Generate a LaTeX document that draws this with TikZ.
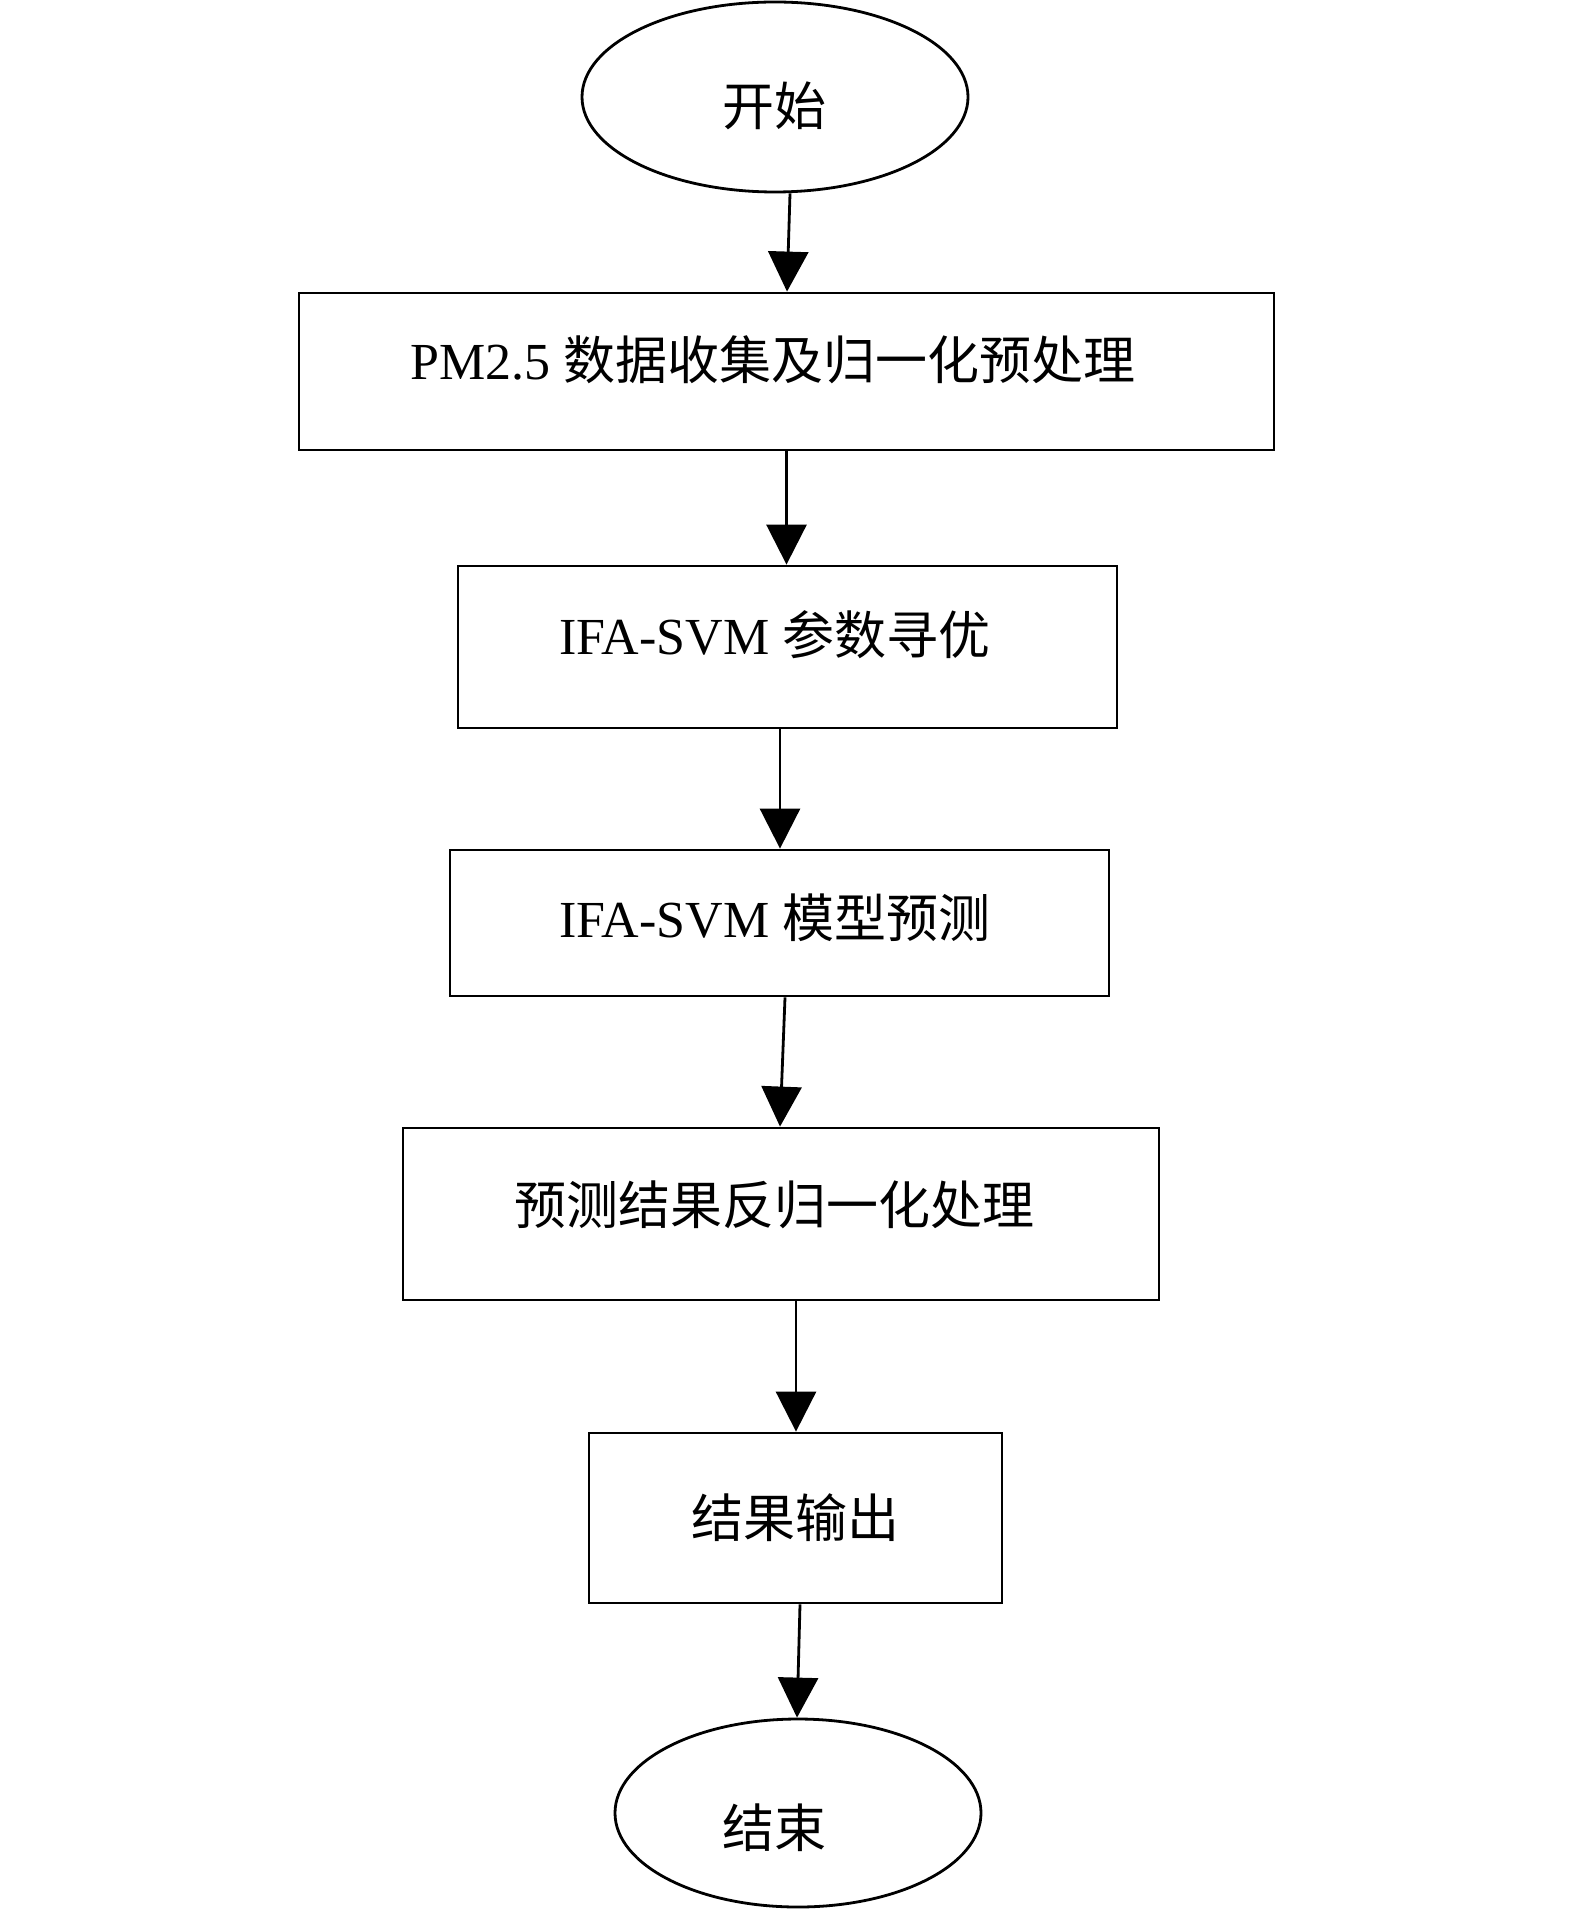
\documentclass[tikz,border=0pt]{standalone}
\usepackage{fontspec}
\setmainfont{Liberation Serif}
\newfontfamily\cjk{Noto Sans CJK SC}
\usetikzlibrary{shapes.geometric,arrows.meta}
\tikzset{
  box/.style={draw, line width=1.4pt, rectangle, inner sep=0pt},
  oval/.style={draw, line width=1.4pt, ellipse, inner sep=0pt},
  txt/.style={inner sep=0pt, font=\fontsize{26pt}{31pt}\selectfont},
  arr/.style={line width=1.4pt, -{Triangle[length=20pt,width=20pt]}, shorten >=0pt},
}
\begin{document}
\begin{tikzpicture}[x=0.5pt,y=-0.5pt]
\useasboundingbox (0,0) rectangle (1575,1909);
% shapes (centers / sizes in px of the 1575x1909 reference)
\node[oval, minimum width=386*0.5pt, minimum height=190*0.5pt] (s) at (775,97) {};
\node[box, minimum width=975*0.5pt, minimum height=157*0.5pt] (b1) at (786.5,371.5) {};
\node[box, minimum width=659*0.5pt, minimum height=162*0.5pt] (b2) at (787.5,647) {};
\node[box, minimum width=659*0.5pt, minimum height=146*0.5pt] (b3) at (779.5,923) {};
\node[box, minimum width=756*0.5pt, minimum height=172*0.5pt] (b4) at (781,1214) {};
\node[box, minimum width=413*0.5pt, minimum height=170*0.5pt] (b5) at (795.5,1518) {};
\node[oval, minimum width=366*0.5pt, minimum height=188*0.5pt] (e) at (798,1813) {};
% texts
\node[txt] (ts) at (774,106) {\cjk 开始};
\node[txt] (t1) at (773,360) {PM2.5 {\cjk 数据收集及归一化预处理}};
\node[txt] (t2) at (775,635) {IFA-SVM {\cjk 参数寻优}};
\node[txt] (t3) at (775,918) {IFA-SVM {\cjk 模型预测}};
\node[txt] (t4) at (774,1205) {\cjk 预测结果反归一化处理};
\node[txt] (t5) at (795,1518) {\cjk 结果输出};
\node[txt] (te) at (774,1828) {\cjk 结束};
% connectors
\draw[arr] ([xshift=7.5pt]s.south) -- ([xshift=0.25pt]b1.north);
\draw[arr] (b1.south) -- (b2.north -| b1.south);
\draw[arr] ([xshift=-3.75pt]b2.south) -- ([xshift=0.25pt]b3.north);
\draw[arr] ([xshift=2.75pt]b3.south) -- ([xshift=-0.5pt]b4.north);
\draw[arr] ([xshift=7.5pt]b4.south) -- ([xshift=0.25pt]b5.north);
\draw[arr] ([xshift=2.25pt]b5.south) -- ([xshift=-0.5pt]e.north);
\end{tikzpicture}
\end{document}
